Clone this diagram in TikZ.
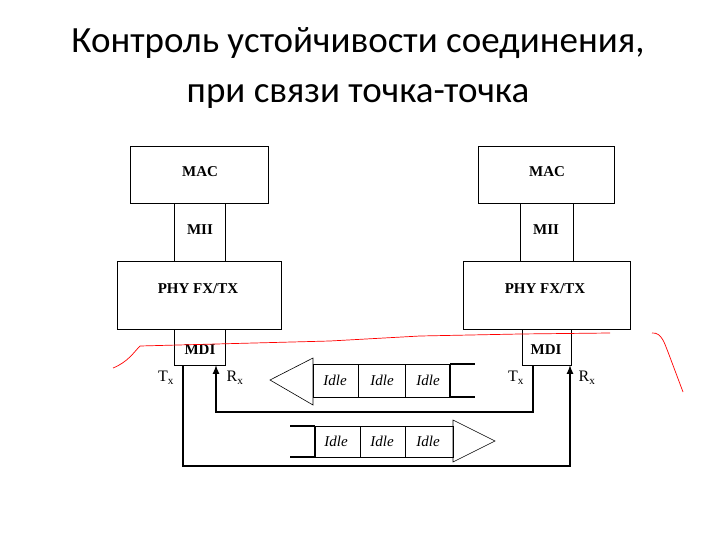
\documentclass[tikz,border=0pt]{standalone}
\usepackage{fontspec}
\setmainfont{Liberation Serif}
\newfontfamily\titlefont{Carlito}
\begin{document}
\begin{tikzpicture}[x=1pt,y=-1pt,
  blk/.style={draw,line width=1pt,inner sep=0},
  lbl/.style={font=\fontsize{15}{16}\selectfont\bfseries},
  idl/.style={font=\fontsize{15}{16}\selectfont\itshape},
  prt/.style={font=\fontsize{16}{16}\selectfont},
  wire/.style={line width=2pt},
  thin/.style={line width=0.6pt}]
\useasboundingbox (0,0) rectangle (720,540);
\node[font=\titlefont\fontsize{37}{50}\selectfont,align=center] (title) at (358,68) {Контроль устойчивости соединения,\\при связи точка-точка};
% left stack
\draw[blk] (130,147) rectangle (268,204); \node[lbl] (macL) at (200,172) {MAC};
\draw[blk] (174,204) rectangle (225,261); \node[lbl] (miiL) at (200,230) {MII};
\draw[blk] (117,261) rectangle (281,329); \node[lbl] (phyL) at (198,289) {PHY FX/TX};
\draw[blk] (174,329) rectangle (225,365); \node[lbl] (mdiL) at (200,350) {MDI};
% right stack
\draw[blk] (478,147) rectangle (614,204); \node[lbl] (macR) at (547,172) {MAC};
\draw[blk] (520,204) rectangle (573,261); \node[lbl] (miiR) at (546,230) {MII};
\draw[blk] (463,261) rectangle (630,329); \node[lbl] (phyR) at (545,289) {PHY FX/TX};
\draw[blk] (522,329) rectangle (571,365); \node[lbl] (mdiR) at (546,350) {MDI};
% port labels
\node[prt] (txL) at (166,378) {T\textsubscript{x}};
\node[prt] (rxL) at (235,378) {R\textsubscript{x}};
\node[prt] (txR) at (516,378) {T\textsubscript{x}};
\node[prt] (rxR) at (587,378) {R\textsubscript{x}};
% wires
\coordinate (a1) at (183,365); \coordinate (a2) at (570,365);
\coordinate (b1) at (533,365); \coordinate (b2) at (216,365);
\draw[wire,-latex] (a1) |- (570,466) -- (a2);
\draw[wire,-latex] (b1) |- (216,412) -- (b2);
% upper packet
\draw[thin] (270,380) -- (313,358) -- (313,405) -- cycle;
\draw[thin] (313,364) rectangle (450,397);
\draw[thin] (358,364) -- (358,397); \draw[thin] (405,364) -- (405,397);
\draw[wire] (450,364) -- (450,397); \draw[wire] (450,364) -- (475,364); \draw[wire] (450,397) -- (475,397);
\node[idl] (u1) at (335,380) {Idle}; \node[idl] (u2) at (382,380) {Idle}; \node[idl] (u3) at (428,380) {Idle};
% lower packet
\draw[thin] (315,426) rectangle (453,457);
\draw[thin] (360,426) -- (360,457); \draw[thin] (405,426) -- (405,457);
\draw[thin] (453,420) -- (495,441) -- (453,462) -- cycle;
\draw[wire] (315,426) -- (315,457); \draw[wire] (290,426) -- (315,426); \draw[wire] (290,457) -- (315,457);
\node[idl] (l1) at (336,441) {Idle}; \node[idl] (l2) at (382,441) {Idle}; \node[idl] (l3) at (428,441) {Idle};
% red strokes
\draw[red,line width=0.7pt] (113,368) .. controls (128,362) and (134,352) .. (140,346) -- (330,341) -- (420,336) -- (520,334) -- (610,333);
\draw[red,line width=0.7pt] (652,333) .. controls (662,332) and (665,345) .. (668,352) -- (683,392);
\end{tikzpicture}
\end{document}
